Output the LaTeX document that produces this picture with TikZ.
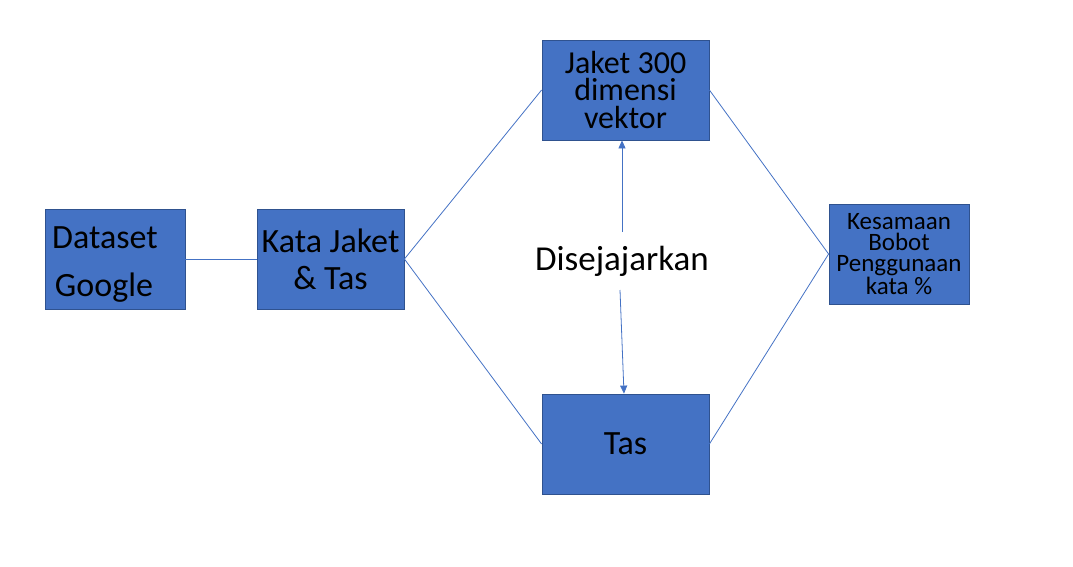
\documentclass[tikz,border=0pt]{standalone}
\usepackage{fontspec}
\setmainfont{Carlito}
\usetikzlibrary{arrows.meta}
\definecolor{fillblue}{HTML}{4472C4}
\definecolor{edgeblue}{HTML}{2F528F}
\begin{document}
\begin{tikzpicture}[x=1pt,y=-1pt,
  box/.style={draw=edgeblue, fill=fillblue, line width=0.8pt, inner sep=0pt, align=center},
  link/.style={draw=fillblue, line width=0.8pt},
  arr/.style={link, -{Triangle[width=7pt,length=8pt]}},
  big/.style={font=\fontsize{34}{37}\selectfont},
  txt/.style={inner sep=0pt, big}]
\useasboundingbox (0,0) rectangle (1073,566);
% boxes
\node[box, minimum width=140pt, minimum height=100pt] (ds) at (115,259) {};
\node[txt, anchor=base] (dst) at (105,248) {Dataset};
\node[txt, anchor=base] (dsg) at (104,296) {Google};
\node[box, big, minimum width=147pt, minimum height=100pt] (kj) at (330.5,259) {Kata Jaket\\\& Tas};
\node[box, minimum width=167pt, minimum height=100pt, font={\fontsize{32}{27.5}\selectfont}] (jk) at (625.5,90) {Jaket 300\\dimensi\\vektor};
\node[box, minimum width=167pt, minimum height=100pt, big] (tas) at (625.5,444) {Tas};
\node[box, minimum width=140pt, minimum height=100pt, font={\fontsize{25}{21}\selectfont}] (ks) at (899,254) {Kesamaan\\Bobot\\Penggunaan\\kata \%};
% middle label
\node[inner sep=0pt, anchor=base, font=\fontsize{35}{38}\selectfont] (dj) at (622,270) {Disejajarkan};
% connectors
\draw[link] (ds.east) -- (kj.west);
\draw[link] (kj.east) -- (jk.west);
\draw[link] (kj.east) -- (tas.west);
\draw[link] (jk.east) -- (ks.west);
\draw[link] (tas.east) -- (ks.west);
\coordinate (up) at (622,232);
\coordinate (dn) at (620,290);
\coordinate (dnx) at (624,0);
\draw[arr] (up) -- (up |- jk.south);
\draw[arr] (dn) -- (dnx |- tas.north);
\end{tikzpicture}
\end{document}
